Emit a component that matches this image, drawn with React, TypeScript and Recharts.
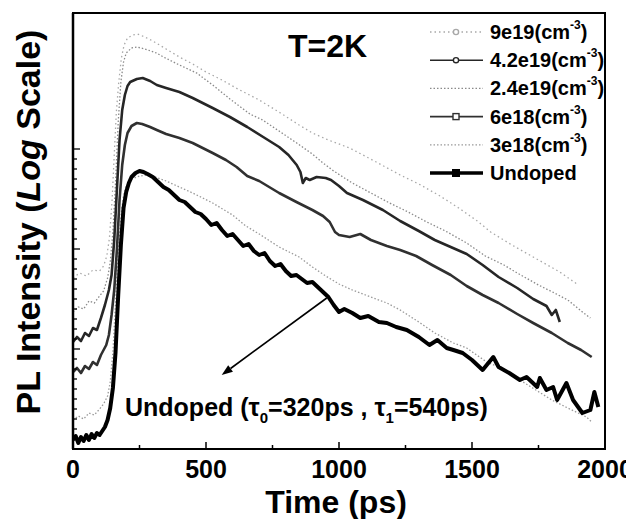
import React from 'react';
import { LineChart, Line, XAxis, YAxis, Legend, ReferenceLine, ReferenceArea } from 'recharts';

// time (ps) vs log10 of PL intensity (arbitrary units)
const undoped: [number, number][] = [
  [0, 0.09], [10, 0.13], [20, 0.06], [30, 0.12], [40, 0.08], [50, 0.14], [60, 0.09], [70, 0.15],
  [80, 0.11], [90, 0.16], [100, 0.14], [110, 0.18], [120, 0.22], [130, 0.29], [140, 0.41], [150, 0.61],
  [160, 0.97], [170, 1.54], [180, 2.04], [190, 2.41], [200, 2.57], [210, 2.66], [220, 2.72], [235, 2.76],
  [250, 2.78], [265, 2.77], [280, 2.75], [300, 2.72], [320, 2.67], [340, 2.62], [360, 2.59], [380, 2.54],
  [400, 2.49], [420, 2.47], [440, 2.42], [460, 2.37], [480, 2.35], [500, 2.3], [520, 2.24], [540, 2.26],
  [560, 2.19], [580, 2.13], [600, 2.15], [620, 2.09], [640, 2.03], [660, 2.05], [680, 1.98], [700, 1.94],
  [720, 1.96], [740, 1.88], [760, 1.83], [780, 1.85], [800, 1.78], [820, 1.73], [840, 1.74], [860, 1.7],
  [880, 1.66], [900, 1.67], [920, 1.62], [940, 1.57], [960, 1.52], [980, 1.44], [1000, 1.37], [1020, 1.4],
  [1050, 1.36], [1080, 1.31], [1110, 1.33], [1150, 1.27], [1180, 1.26], [1215, 1.22], [1255, 1.19],
  [1300, 1.12], [1340, 1.04], [1370, 1.09], [1405, 1.01], [1430, 0.99], [1465, 0.96], [1500, 0.89],
  [1540, 0.79], [1580, 0.92], [1600, 0.82], [1640, 0.76], [1680, 0.69], [1705, 0.72], [1745, 0.62],
  [1755, 0.71], [1780, 0.59], [1805, 0.62], [1820, 0.49], [1855, 0.66], [1880, 0.49], [1915, 0.36],
  [1945, 0.39], [1960, 0.57], [1975, 0.42],
];

const n3e18: [number, number][] = [
  [0, 0.29], [20, 0.33], [40, 0.3], [60, 0.36], [80, 0.34], [100, 0.4], [115, 0.45], [130, 0.53],
  [140, 0.67], [150, 0.97], [160, 1.47], [170, 1.97], [180, 2.33], [190, 2.53], [200, 2.63], [220, 2.7],
  [250, 2.73], [280, 2.74], [300, 2.73], [350, 2.68], [400, 2.62], [450, 2.56], [525, 2.46], [600, 2.34],
  [650, 2.23], [700, 2.15], [775, 2.02], [850, 1.92], [900, 1.82], [950, 1.73], [1000, 1.65], [1050, 1.59],
  [1100, 1.54], [1180, 1.46], [1230, 1.39], [1300, 1.27], [1360, 1.16], [1430, 1.06], [1480, 1.01],
  [1555, 0.87], [1600, 0.82], [1680, 0.69], [1740, 0.59], [1800, 0.49], [1860, 0.41], [1930, 0.32],
  [1950, 0.27],
];

const n6e18: [number, number][] = [
  [0, 0.77], [15, 0.81], [30, 0.76], [45, 0.83], [60, 0.8], [75, 0.87], [90, 0.84], [105, 0.94],
  [115, 0.99], [125, 1.04], [135, 1.14], [145, 1.34], [155, 1.59], [165, 1.99], [175, 2.49], [185, 2.84],
  [195, 3.04], [205, 3.16], [220, 3.23], [240, 3.26], [260, 3.25], [290, 3.22], [315, 3.19], [350, 3.15],
  [400, 3.11], [450, 3.06], [525, 2.96], [575, 2.89], [615, 2.82], [655, 2.73], [700, 2.68], [775, 2.56],
  [840, 2.47], [900, 2.39], [940, 2.33], [965, 2.27], [985, 2.17], [1000, 2.14], [1040, 2.12], [1080, 2.15],
  [1120, 2.09], [1180, 2.03], [1230, 1.99], [1290, 1.93], [1350, 1.84], [1420, 1.74], [1480, 1.63],
  [1540, 1.54], [1600, 1.46], [1670, 1.35], [1730, 1.26], [1800, 1.16], [1860, 1.06], [1910, 0.99],
  [1950, 0.92],
];

const n42e19: [number, number][] = [
  [0, 1.07], [15, 1.12], [30, 1.08], [45, 1.16], [60, 1.13], [75, 1.21], [90, 1.19], [105, 1.31],
  [120, 1.44], [135, 1.59], [145, 1.74], [155, 2.09], [165, 2.59], [175, 3.09], [185, 3.39], [195, 3.54],
  [205, 3.63], [215, 3.67], [240, 3.7], [262, 3.71], [290, 3.68], [315, 3.64], [350, 3.61], [400, 3.57],
  [450, 3.51], [525, 3.41], [590, 3.32], [655, 3.22], [715, 3.12], [775, 3.02], [810, 2.94], [841, 2.84],
  [855, 2.77], [864, 2.66], [875, 2.71], [890, 2.69], [916, 2.72], [950, 2.71], [970, 2.69], [1000, 2.63],
  [1030, 2.56], [1090, 2.49], [1165, 2.39], [1230, 2.28], [1300, 2.18], [1360, 2.09], [1420, 2.02],
  [1480, 1.95], [1540, 1.84], [1600, 1.72], [1670, 1.61], [1730, 1.5], [1780, 1.43], [1800, 1.34],
  [1815, 1.39], [1830, 1.27],
];

const n24e19: [number, number][] = [
  [0, 1.37], [20, 1.42], [40, 1.4], [60, 1.48], [80, 1.46], [100, 1.53], [115, 1.58], [130, 1.71],
  [140, 1.87], [150, 2.17], [160, 2.67], [170, 3.27], [180, 3.67], [190, 3.87], [200, 3.96], [220, 4.01],
  [240, 4.02], [270, 4.0], [314, 3.96], [340, 3.92], [400, 3.84], [465, 3.76], [530, 3.63], [590, 3.5],
  [665, 3.35], [713, 3.29], [780, 3.17], [841, 3.06], [900, 2.95], [940, 2.86], [980, 2.78], [1050, 2.66],
  [1120, 2.56], [1190, 2.46], [1260, 2.37], [1330, 2.27], [1400, 2.18], [1480, 2.06], [1550, 1.93],
  [1620, 1.84], [1670, 1.76], [1750, 1.64], [1810, 1.56], [1860, 1.49], [1920, 1.36], [1945, 1.31],
];

const n9e19: [number, number][] = [
  [0, 1.71], [25, 1.76], [50, 1.73], [75, 1.79], [100, 1.78], [115, 1.83], [127, 1.93], [137, 2.11],
  [147, 2.49], [155, 2.94], [163, 3.37], [172, 3.67], [182, 3.91], [192, 4.04], [205, 4.11], [225, 4.14],
  [243, 4.15], [270, 4.12], [300, 4.08], [350, 4.0], [400, 3.92], [450, 3.85], [500, 3.77], [560, 3.69],
  [620, 3.6], [700, 3.49], [780, 3.36], [850, 3.24], [900, 3.16], [960, 3.09], [1040, 3.01], [1140, 2.87],
  [1230, 2.74], [1300, 2.65], [1380, 2.53], [1450, 2.41], [1520, 2.28], [1570, 2.17], [1650, 2.04],
  [1750, 1.89], [1830, 1.77], [1900, 1.64],
];

const xTicks = [0, 250, 500, 750, 1000, 1250, 1500, 1750, 2000];
const xLabels = [0, 500, 1000, 1500, 2000];
const yTicks = [
  0.1, 0.2, 0.3, 0.4, 0.5, 0.6, 0.7, 0.8, 0.9, 1.0, 1.1, 1.2, 1.3, 1.4, 1.5,
  1.6, 1.7, 1.8, 1.9, 2.0, 2.1, 2.2, 2.3, 2.4, 2.5, 2.6, 2.7, 2.8, 2.9, 3.0,
];
const yMax = 4.36;
const xMax = 2000;

// arrow from the undoped trace down to the annotation
const arrowFrom = { x: 954, y: 1.51 };
const arrowTo = { x: 559, y: 0.74 };

const FONT = "'Liberation Sans', Arial, Helvetica, sans-serif";

const W = 626;
const H = 511;
const M = { top: 5, right: 29, bottom: 30, left: 64 };
const Y_AXIS_W = 1;
const X_AXIS_H = 40;

type Series = {
  name: string;
  sup: boolean;
  data: [number, number][];
  stroke: string;
  width: number;
  dash?: string;
  marker: 'none' | 'circle' | 'square' | 'solid';
};

// legend order (top to bottom)
const legendSeries: Series[] = [
  { name: '9e19', sup: true, data: n9e19, stroke: '#a8a8a8', width: 1.3, dash: '1.5 3', marker: 'circle' },
  { name: '4.2e19', sup: true, data: n42e19, stroke: '#262626', width: 2.6, marker: 'circle' },
  { name: '2.4e19', sup: true, data: n24e19, stroke: '#8a8a8a', width: 1.3, dash: '1.5 2', marker: 'none' },
  { name: '6e18', sup: true, data: n6e18, stroke: '#303030', width: 2.6, marker: 'square' },
  { name: '3e18', sup: true, data: n3e18, stroke: '#9a9a9a', width: 1.3, dash: '1.5 2', marker: 'none' },
  { name: 'Undoped', sup: false, data: undoped, stroke: '#000000', width: 4, marker: 'solid' },
];

// drawing order: light traces behind, dark and thick ones on top
const drawOrder = ['9e19', '2.4e19', '3e18', '6e18', '4.2e19', 'Undoped'];

const toPoints = (d: [number, number][]) => d.map(([t, v]) => ({ t, v }));

function XTick(props: any) {
  const { x, y, payload } = props;
  const major = xLabels.includes(payload.value);
  return (
    <g>
      <line x1={x} x2={x} y1={y} y2={y - (major ? 7 : 4)} stroke="#000" strokeWidth={1.5} />
      {major && (
        <text x={x} y={y + 29} textAnchor="middle" fontSize={25} fontWeight="bold" fontFamily={FONT} fill="#000">
          {payload.value}
        </text>
      )}
    </g>
  );
}

// inward tick marks on the left axis, no labels
function YTick(props: any) {
  const { y, payload } = props;
  const x0 = M.left + Y_AXIS_W;
  const major = Math.abs(payload.value - Math.round(payload.value)) < 0.001;
  return <line x1={x0} x2={x0 + (major ? 7 : 4)} y1={y} y2={y} stroke="#000" strokeWidth={1.3} />;
}

function ArrowShape(props: any) {
  const { x1, y1, x2, y2 } = props;
  if (x1 == null) return null;
  const ang = Math.atan2(y2 - y1, x2 - x1);
  const len = 11;
  const hw = 4;
  const bx = x2 - len * Math.cos(ang);
  const by = y2 - len * Math.sin(ang);
  const px = -Math.sin(ang) * hw;
  const py = Math.cos(ang) * hw;
  return (
    <g>
      <line x1={x1} y1={y1} x2={bx} y2={by} stroke="#000" strokeWidth={1.6} />
      <polygon points={`${x2},${y2} ${bx + px},${by + py} ${bx - px},${by - py}`} fill="#000" />
    </g>
  );
}

function LegendBox() {
  return (
    <svg width={205} height={172} style={{ overflow: 'visible', display: 'block' }}>
      {legendSeries.map((s, i) => {
        const y = 14 + i * 28.2;
        return (
          <g key={s.name}>
            <line
              x1={7}
              x2={60}
              y1={y}
              y2={y}
              stroke={s.stroke}
              strokeWidth={s.marker === 'solid' ? 3.5 : s.dash ? 1.3 : 1.6}
              strokeDasharray={s.dash}
            />
            {s.marker === 'circle' && (
              <circle cx={33} cy={y} r={2.6} fill="#fff" stroke={s.stroke} strokeWidth={1.4} />
            )}
            {s.marker === 'square' && (
              <rect x={30} y={y - 3} width={6} height={6} fill="#fff" stroke={s.stroke} strokeWidth={1.4} />
            )}
            {s.marker === 'solid' && <rect x={29} y={y - 4} width={8} height={8} fill="#000" />}
            <text x={67} y={y + 7} fontSize={20} fontWeight="bold" fontFamily={FONT} fill="#000">
              {s.name}
              {s.sup && (
                <>
                  (cm
                  <tspan fontSize={12} dy={-10}>
                    -3
                  </tspan>
                  <tspan dy={10}>)</tspan>
                </>
              )}
            </text>
          </g>
        );
      })}
    </svg>
  );
}

export default function App() {
  const byName = (n: string) => legendSeries.find((s) => s.name === n)!;
  return (
    <div style={{ position: 'relative', width: W, height: H, background: '#fff' }}>
      <LineChart width={W} height={H} margin={M}>
        <XAxis
          type="number"
          dataKey="t"
          domain={[0, xMax]}
          ticks={xTicks}
          interval={0}
          height={X_AXIS_H}
          tickSize={0}
          tickMargin={0}
          tickLine={false}
          tick={<XTick />}
          axisLine={{ stroke: '#000', strokeWidth: 2 }}
          allowDataOverflow
        />
        <YAxis
          type="number"
          domain={[0, yMax]}
          ticks={yTicks}
          interval={0}
          width={Y_AXIS_W}
          tickSize={0}
          tickMargin={0}
          tickLine={false}
          tick={<YTick />}
          axisLine={{ stroke: '#000', strokeWidth: 2.5 }}
          allowDataOverflow
        />
        {/* plot frame */}
        <ReferenceArea
          x1={0}
          x2={xMax}
          y1={0}
          y2={yMax}
          fill="none"
          fillOpacity={0}
          stroke="#000"
          strokeWidth={2}
          ifOverflow="visible"
        />
        {drawOrder.map((n) => {
          const s = byName(n);
          return (
            <Line
              key={n}
              data={toPoints(s.data)}
              dataKey="v"
              name={n}
              type="linear"
              stroke={s.stroke}
              strokeWidth={s.width}
              strokeDasharray={s.dash}
              strokeLinejoin="round"
              dot={false}
              activeDot={false}
              isAnimationActive={false}
            />
          );
        })}
        <ReferenceLine segment={[arrowFrom, arrowTo]} shape={<ArrowShape />} />
        <Legend
          layout="horizontal"
          verticalAlign="middle"
          align="center"
          content={() => <LegendBox />}
          wrapperStyle={{ left: 415, top: 10, width: 205, height: 172 }}
        />
        <text x={280} y={49} fontSize={32} fontWeight="bold" fontFamily={FONT} fill="#000">
          T=2K
        </text>
        <text x={117} y={408} fontSize={25} fontWeight="bold" fontFamily={FONT} fill="#000">
          Undoped (τ
          <tspan fontSize={15} dy={7}>0</tspan>
          <tspan dy={-7}>=320ps , τ</tspan>
          <tspan fontSize={15} dy={7}>1</tspan>
          <tspan dy={-7}>=540ps)</tspan>
        </text>
        <text x={328} y={505} textAnchor="middle" fontSize={32} fontWeight="bold" fontFamily={FONT} fill="#000">
          Time (ps)
        </text>
        <text
          transform="translate(32, 214) rotate(-90)"
          textAnchor="middle"
          fontSize={34}
          fontWeight="bold"
          fontFamily={FONT}
          fill="#000"
        >
          PL Intensity (<tspan fontStyle="italic">Log</tspan> Scale)
        </text>
      </LineChart>
    </div>
  );
}
